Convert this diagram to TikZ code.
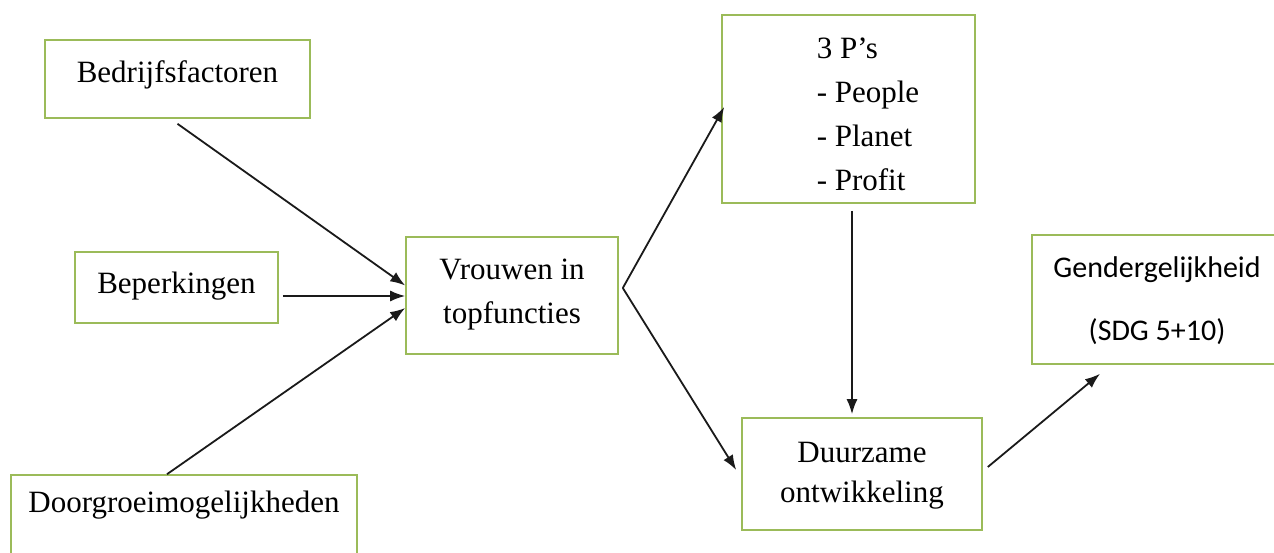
\documentclass[tikz,border=0pt]{standalone}
\usepackage{fontspec}
\setmainfont{Liberation Serif}
\newfontfamily\calibrifont{Carlito}
\usetikzlibrary{arrows.meta,calc}
\definecolor{boxgreen}{HTML}{9BBB59}
\definecolor{inkline}{HTML}{1A1A1A}
\begin{document}
\begin{tikzpicture}[x=1pt,y=-1pt,
  box/.style={draw=boxgreen,line width=1.6pt,inner sep=0pt,fill=white,
    align=center,font=\fontsize{31}{44}\selectfont},
  link/.style={draw=inkline,line width=1.8pt,-{Latex[length=15pt,width=11pt]}}]
\useasboundingbox (0,0) rectangle (1274,552);
\fill[white] (0,0) rectangle (1274,552);

% factors on the left
\node[box,minimum width=265pt,minimum height=78pt,text height=20pt,text depth=13.4pt]
  (bed) at (177.5,79) {Bedrijfsfactoren};
\node[box,minimum width=203pt,minimum height=71pt,text height=20pt,text depth=8.4pt]
  (bep) at (176.5,287.5) {Beperkingen};
\node[box,minimum width=346pt,minimum height=110pt,text height=10pt,text depth=45.4pt]
  (door) at (184,530) {Doorgroeimogelijkheden};

% central concept
\node[box,minimum width=212pt,minimum height=117pt,text height=64pt,text depth=8.4pt]
  (vr) at (512,295.5) {Vrouwen in\\topfuncties};

% outcomes
\node[box,align=left,minimum width=253pt,minimum height=188pt,text height=170pt,text depth=7.4pt]
  (pp) at (848.5,109) {\hspace*{39pt}3 P’s\\\hspace*{39pt}- People\\\hspace*{39pt}- Planet\\\hspace*{39pt}- Profit};
\node[box,font=\fontsize{31}{40}\selectfont,minimum width=240pt,minimum height=112pt,text height=64pt,text depth=7.4pt]
  (dz) at (862,474) {Duurzame\\ontwikkeling};
\node[box,font=\calibrifont\fontsize{30}{63}\selectfont,minimum width=250pt,minimum height=129pt,text height=90pt,text depth=9pt]
  (gg) at (1157,299.5) {Gendergelijkheid\\(SDG 5+10)};

% connector end points
\coordinate (bedout) at ([yshift=-5pt]bed.south);
\coordinate (bepout) at ([xshift=4pt,yshift=-8.5pt]bep.east);
\coordinate (doorout) at ([xshift=-17pt]door.north);
\coordinate (vrin1) at ([yshift=10pt]vr.west);
\coordinate (vrin2) at ([yshift=-0.5pt]vr.west);
\coordinate (vrin3) at ([yshift=-12.5pt]vr.west);
\coordinate (vrout) at ([xshift=4pt,yshift=7.5pt]vr.east);
\coordinate (ppin) at ([xshift=3pt,yshift=2pt]pp.west);
\coordinate (ppout) at ([xshift=3.5pt,yshift=-7pt]pp.south);
\coordinate (dzin1) at ([xshift=-5pt,yshift=4pt]dz.west);
\coordinate (dzin2) at ([xshift=-10pt,yshift=3pt]dz.north);
\coordinate (dzout) at ([xshift=5pt,yshift=7pt]dz.east);
\coordinate (ggin) at ([xshift=-57pt,yshift=-9pt]gg.south);

\draw[link] (bedout) -- (vrin1);
\draw[link] (bepout) -- (vrin2);
\draw[link] (doorout) -- (vrin3);
\draw[link] (vrout) -- (ppin);
\draw[link] (vrout) -- (dzin1);
\draw[link] (ppout) -- (dzin2);
\draw[link] (dzout) -- (ggin);
\end{tikzpicture}
\end{document}
